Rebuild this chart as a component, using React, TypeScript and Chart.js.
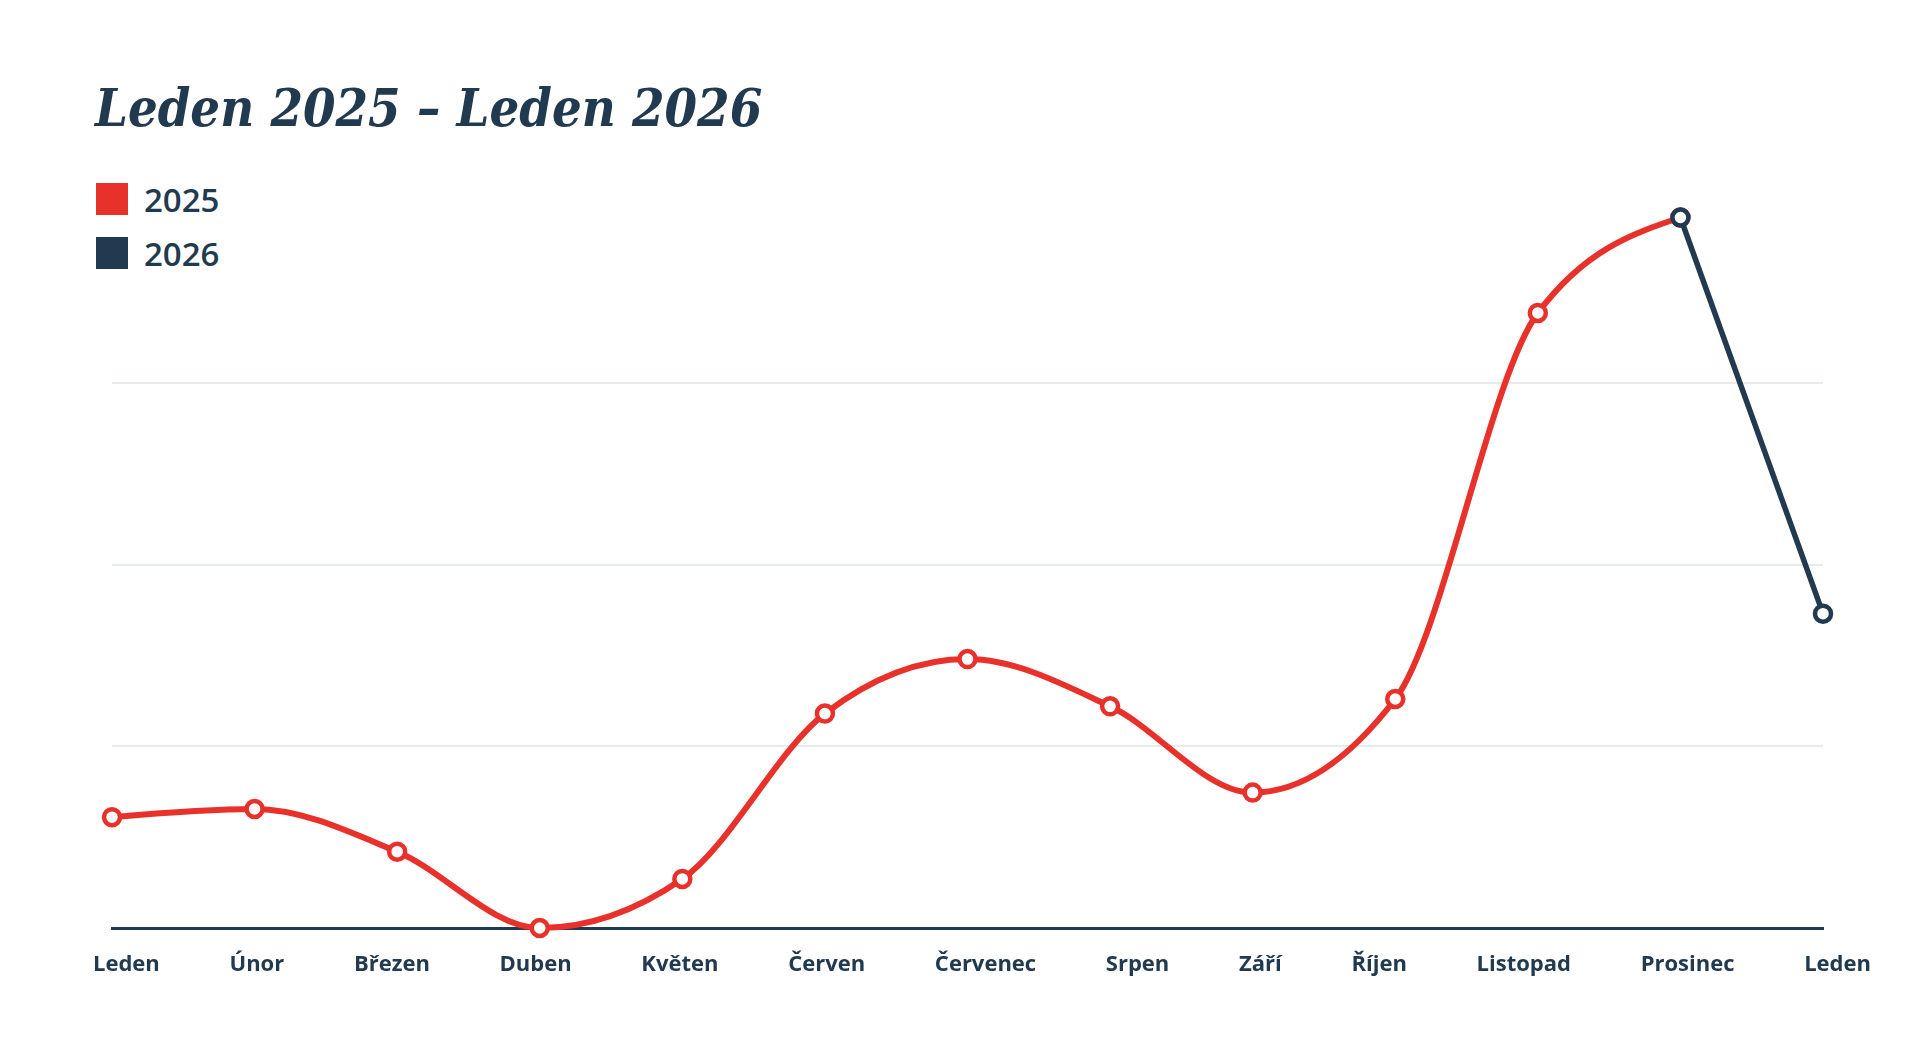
import { useEffect, useRef } from "react";
import { Chart, registerables } from "chart.js";

Chart.register(...registerables);

const months = [
  "Leden", "Únor", "Březen", "Duben", "Květen", "Červen", "Červenec",
  "Srpen", "Září", "Říjen", "Listopad", "Prosinec", "Leden",
];

const values2025 = [6.1, 6.55, 4.2, 0, 2.7, 11.8, 14.8, 12.2, 7.45, 12.6, 33.85, 39.1, null];
const values2026 = [null, null, null, null, null, null, null, null, null, null, null, 39.1, 17.3];

const gridStep = 10;
const yMax = 39.1;

const RED = "#e8312b";
const NAVY = "#213a4f";

const legendItems = [
  { label: "2025", color: RED },
  { label: "2026", color: NAVY },
];

// monotone-x smoothing (same tangents as d3.curveMonotoneX) for the red line
const sign = (v: number) => (v < 0 ? -1 : 1);

function monotoneTangents(pts: { x: number; y: number }[]) {
  const n = pts.length;
  const t: number[] = new Array(n).fill(0);
  if (n < 2) return t;
  for (let i = 1; i < n - 1; i++) {
    const h0 = pts[i].x - pts[i - 1].x;
    const h1 = pts[i + 1].x - pts[i].x;
    const s0 = (pts[i].y - pts[i - 1].y) / h0;
    const s1 = (pts[i + 1].y - pts[i].y) / h1;
    const p = (s0 * h1 + s1 * h0) / (h0 + h1);
    t[i] = (sign(s0) + sign(s1)) * Math.min(Math.abs(s0), Math.abs(s1), 0.5 * Math.abs(p)) || 0;
  }
  const sFirst = (pts[1].y - pts[0].y) / (pts[1].x - pts[0].x);
  const sLast = (pts[n - 1].y - pts[n - 2].y) / (pts[n - 1].x - pts[n - 2].x);
  t[0] = n > 2 ? (3 * sFirst - t[1]) / 2 : sFirst;
  t[n - 1] = n > 2 ? (3 * sLast - t[n - 2]) / 2 : sLast;
  return t;
}

const smoothPlugin = {
  id: "smoothMonotoneX",
  beforeDatasetDraw(chart: any, args: any) {
    const meta = chart.getDatasetMeta(args.index);
    const ds = chart.data.datasets[args.index];
    if (!ds.smooth || !meta.dataset) return;
    meta.dataset.updateControlPoints(chart.chartArea, "x");
    const pts = meta.data.filter((p: any) => !p.skip);
    const t = monotoneTangents(pts);
    for (let i = 0; i < pts.length; i++) {
      const p = pts[i];
      if (i > 0) {
        const dx = (p.x - pts[i - 1].x) / 3;
        p.cp1x = p.x - dx;
        p.cp1y = p.y - dx * t[i];
      }
      if (i < pts.length - 1) {
        const dx = (pts[i + 1].x - p.x) / 3;
        p.cp2x = p.x + dx;
        p.cp2y = p.y + dx * t[i];
      }
    }
    meta.dataset._path = undefined;
  },
};

export default function App() {
  const canvasRef = useRef<HTMLCanvasElement>(null);
  const chartRef = useRef<Chart | null>(null);

  useEffect(() => {
    document.body.style.margin = "0";
    if (!canvasRef.current) return;
    if (chartRef.current) chartRef.current.destroy();

    chartRef.current = new Chart(canvasRef.current, {
      type: "line",
      data: {
        labels: months,
        datasets: [
          {
            label: "2025",
            data: values2025,
            smooth: true,
            borderColor: RED,
            borderWidth: 6,
            cubicInterpolationMode: "monotone",
            pointRadius: 8,
            pointBorderWidth: 4.5,
            pointBackgroundColor: "#ffffff",
            pointBorderColor: RED,
            clip: false,
            order: 1,
          } as any,
          {
            label: "2026",
            data: values2026,
            borderColor: NAVY,
            borderWidth: 5.5,
            tension: 0,
            pointRadius: 8,
            pointBorderWidth: 4.5,
            pointBackgroundColor: "#ffffff",
            pointBorderColor: NAVY,
            clip: false,
            order: 0,
          },
        ],
      },
      options: {
        animation: false,
        responsive: true,
        maintainAspectRatio: false,
        layout: { padding: { left: 112, right: 97, top: 217.5, bottom: 112 } },
        plugins: {
          legend: { display: false },
          tooltip: { enabled: false },
        },
        scales: {
          x: {
            offset: false,
            grid: { display: false, drawTicks: false },
            ticks: { display: false },
            border: { display: true, color: NAVY, width: 3 },
          },
          y: {
            min: 0,
            max: yMax,
            ticks: { display: false, stepSize: gridStep, includeBounds: false },
            grid: { color: "#e7ecea", lineWidth: 2, drawTicks: false },
            border: { display: false },
          },
        },
      },
      plugins: [smoothPlugin],
    });

    return () => {
      if (chartRef.current) {
        chartRef.current.destroy();
        chartRef.current = null;
      }
    };
  }, []);

  return (
    <div style={{ position: "relative", width: 1920, height: 1040, background: "#ffffff", overflow: "hidden" }}>
      <div
        style={{
          position: "absolute",
          left: 95,
          top: 82,
          fontFamily: "'DejaVu Serif Condensed', 'DejaVu Serif', serif",
          fontWeight: 700,
          fontStyle: "italic",
          fontSize: 52,
          lineHeight: 1,
          color: NAVY,
          whiteSpace: "nowrap",
        }}
      >
        Leden 2025 – Leden 2026
      </div>

      {legendItems.map((item, i) => (
        <div
          key={item.label}
          style={{ position: "absolute", left: 96, top: 183 + i * 54, display: "flex", alignItems: "center", height: 32 }}
        >
          <span style={{ width: 32, height: 32, background: item.color, display: "inline-block" }} />
          <span
            style={{
              marginLeft: 16,
              fontFamily: "'Open Sans', sans-serif",
              fontWeight: 600,
              fontSize: 33,
              lineHeight: 1,
              color: NAVY,
            }}
          >
            {item.label}
          </span>
        </div>
      ))}

      <div style={{ position: "absolute", left: 0, top: 0, width: 1920, height: 1040 }}>
        <canvas ref={canvasRef} />
      </div>

      <div
        style={{
          position: "absolute",
          left: 93,
          top: 951,
          width: 1778,
          display: "flex",
          justifyContent: "space-between",
          fontFamily: "'Open Sans', sans-serif",
          fontWeight: 700,
          fontSize: 22,
          lineHeight: 1,
          color: NAVY,
          whiteSpace: "nowrap",
        }}
      >
        {months.map((m, i) => (
          <span key={i}>{m}</span>
        ))}
      </div>
    </div>
  );
}
